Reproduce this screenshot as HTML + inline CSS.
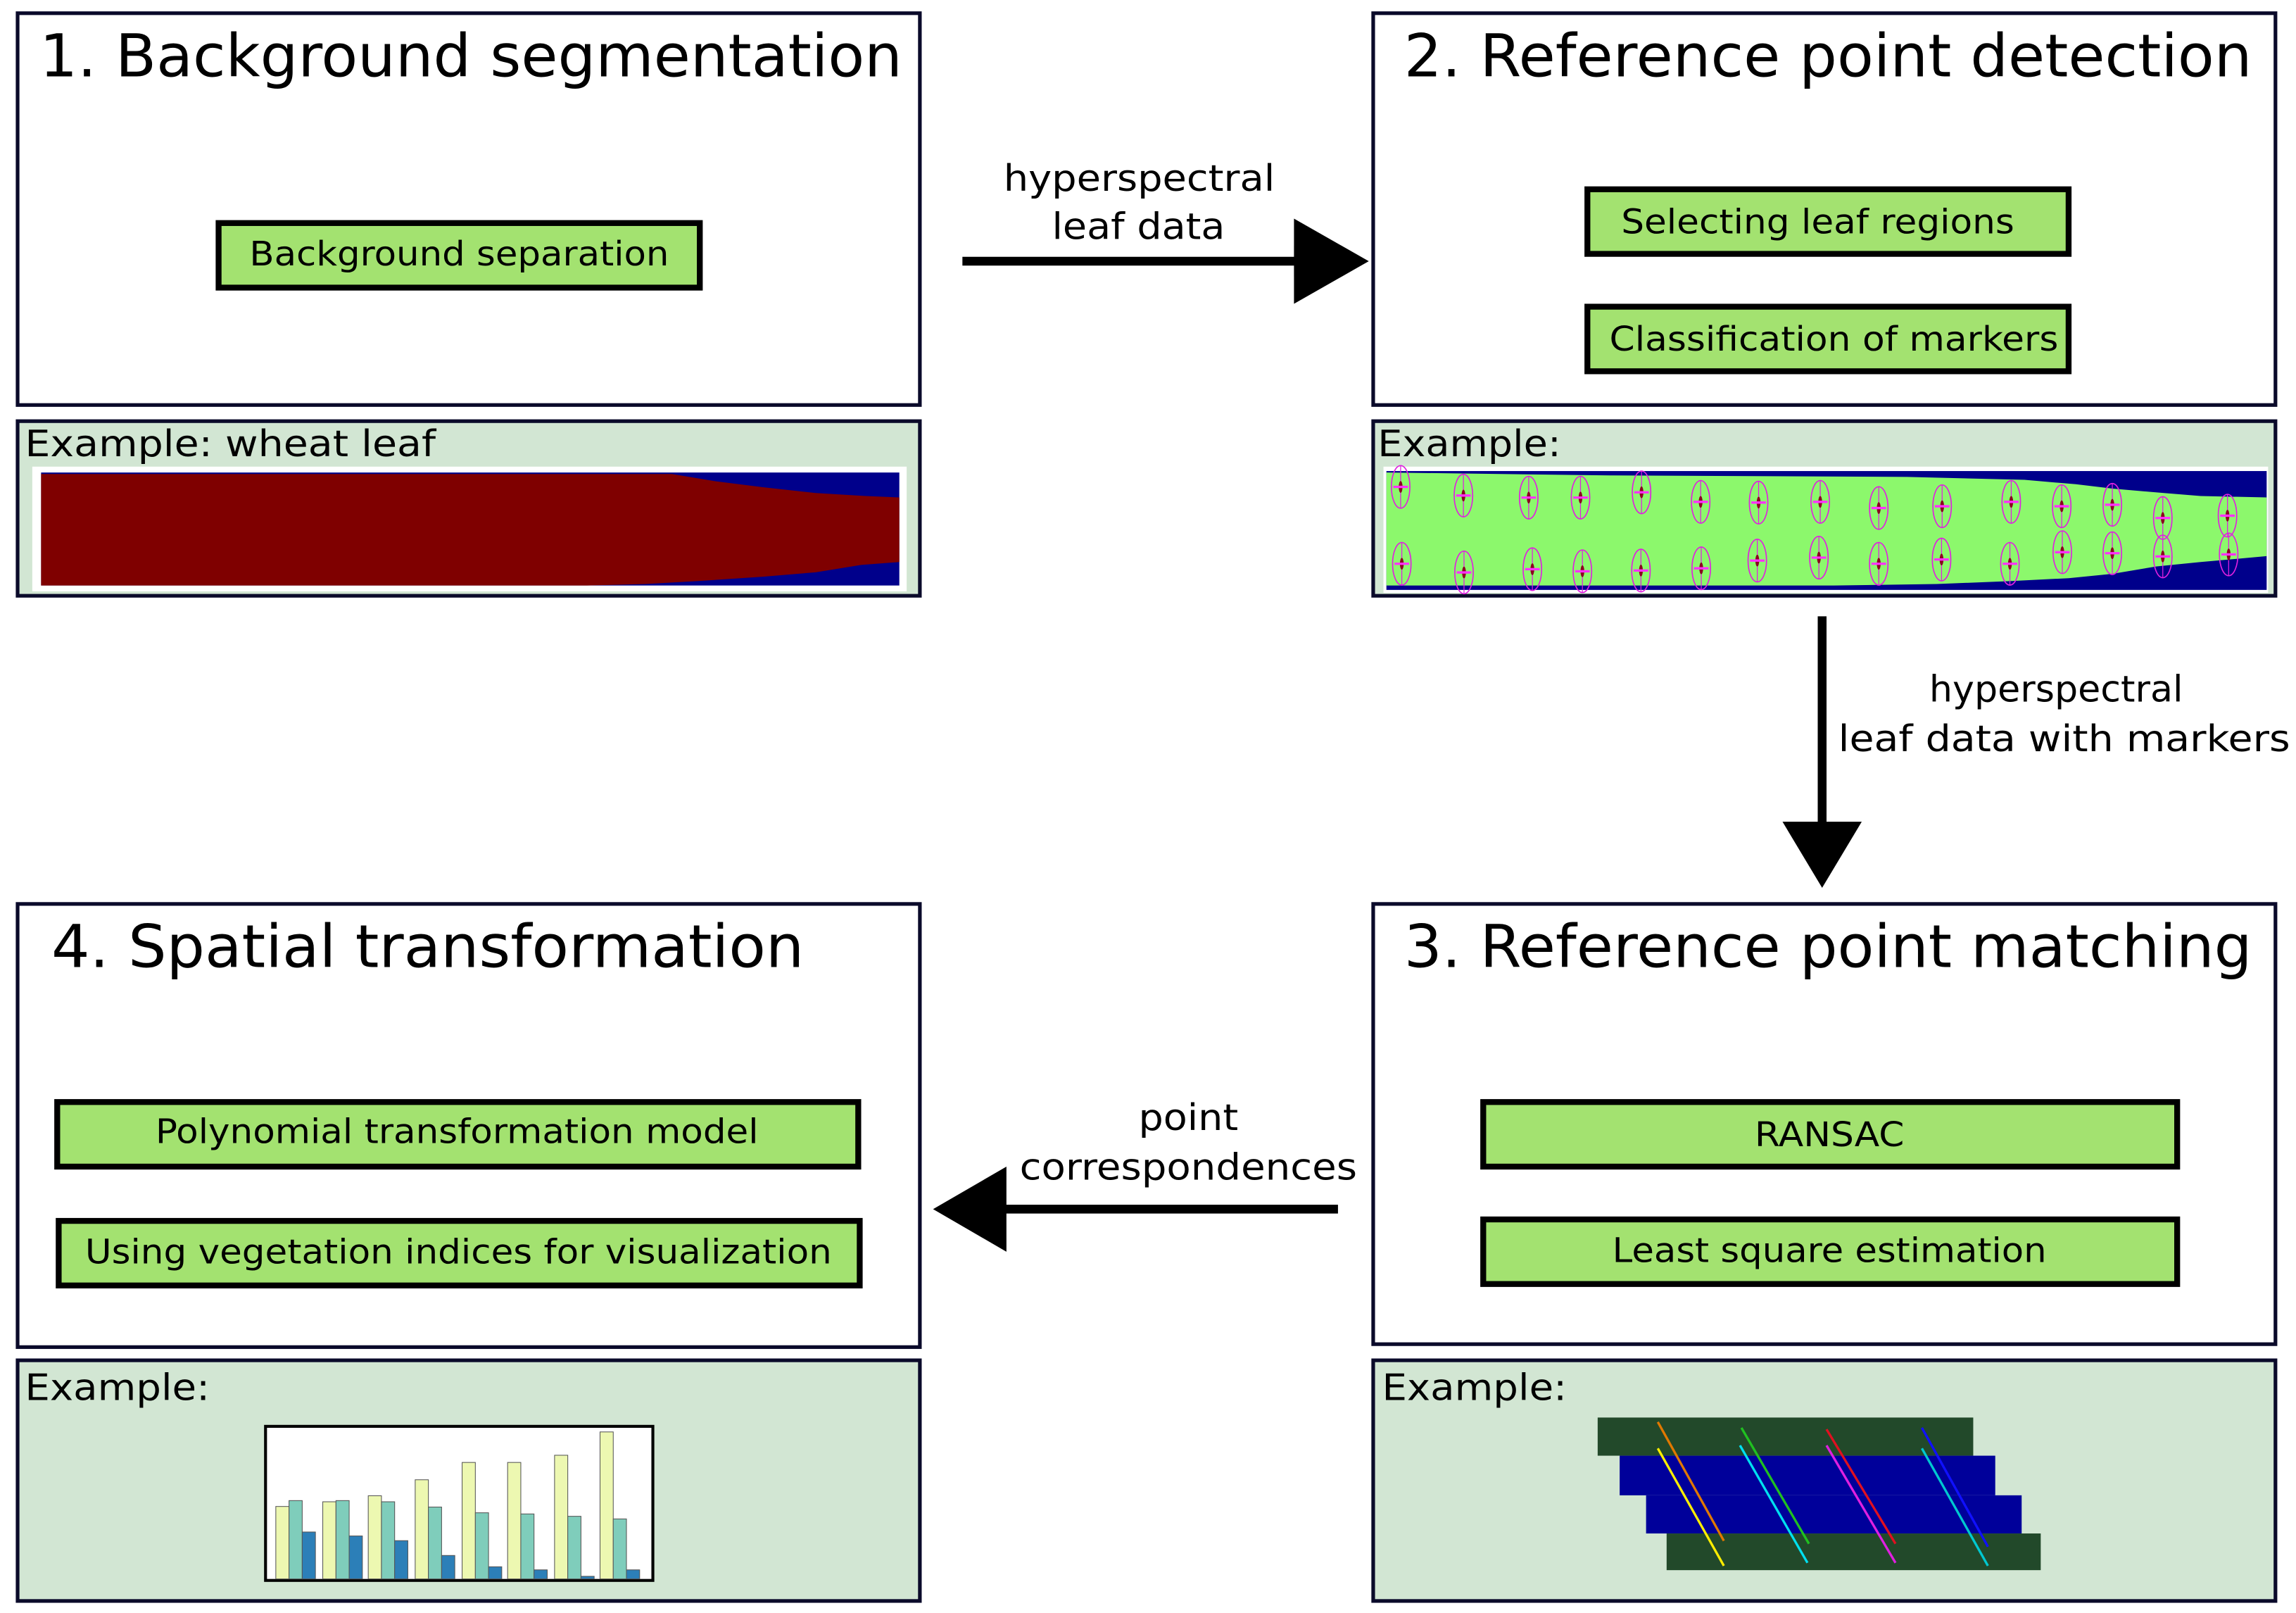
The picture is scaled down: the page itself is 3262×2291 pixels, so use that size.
<!DOCTYPE html>
<html><head><meta charset="utf-8">
<style>
html,body{margin:0;padding:0;background:#fff;}
svg{display:block;}
text{font-family:"DejaVu Sans","Liberation Sans",sans-serif;fill:#000;}
</style></head>
<body>
<svg width="3262" height="2291" viewBox="0 0 1565 1099.2" preserveAspectRatio="none" xmlns="http://www.w3.org/2000/svg">
<defs>
<g id="mk">
<ellipse cx="0" cy="0" rx="6.3" ry="14.5" fill="none" stroke="#e020e0" stroke-width="0.8"/>
<line x1="0" y1="-14.5" x2="0" y2="14.5" stroke="#e020e0" stroke-width="0.6"/>
<ellipse cx="0" cy="0" rx="1.3" ry="4" fill="#8b0020"/>
<line x1="-5" y1="0" x2="5" y2="0" stroke="#ff30ff" stroke-width="1.6"/>
</g>
</defs>

<!-- Panel 1 -->
<rect x="12" y="9" width="615" height="267" fill="#fff" stroke="#0a0a2a" stroke-width="2.5"/>
<text x="27" y="52" font-size="40" textLength="588" lengthAdjust="spacingAndGlyphs">1. Background segmentation</text>
<rect x="149" y="152" width="328" height="44" fill="#a3e270" stroke="#000" stroke-width="4"/>
<text x="170" y="181" font-size="23" textLength="286" lengthAdjust="spacingAndGlyphs">Background separation</text>

<rect x="12" y="287" width="615" height="119" fill="#d2e6d3" stroke="#0a0a2a" stroke-width="2.5"/>
<text x="17" y="311" font-size="25" textLength="280" lengthAdjust="spacingAndGlyphs">Example: wheat leaf</text>
<rect x="22" y="318" width="596" height="85" fill="#fff"/>
<rect x="28" y="322" width="585" height="77" fill="#00008b"/>
<path d="M28,323 L458,323 L488,328 L520,332 L556,336 L590,338 L613,339 L613,383 L587,385 L556,390 L520,393 L475,396 L440,398 L400,399 L28,399 Z" fill="#7f0000"/>

<!-- Arrow 1 -->
<line x1="656" y1="178" x2="886" y2="178" stroke="#000" stroke-width="6"/>
<polygon points="882,149 933,178 882,207" fill="#000"/>
<text x="684" y="130" font-size="25" textLength="185" lengthAdjust="spacingAndGlyphs">hyperspectral</text>
<text x="717" y="163" font-size="25" textLength="118" lengthAdjust="spacingAndGlyphs">leaf data</text>

<!-- Panel 2 -->
<rect x="936" y="9" width="615" height="267" fill="#fff" stroke="#0a0a2a" stroke-width="2.5"/>
<text x="957" y="52" font-size="40" textLength="578" lengthAdjust="spacingAndGlyphs">2. Reference point detection</text>
<rect x="1082" y="129" width="328" height="44" fill="#a3e270" stroke="#000" stroke-width="4"/>
<text x="1105" y="159" font-size="23" textLength="268" lengthAdjust="spacingAndGlyphs">Selecting leaf regions</text>
<rect x="1082" y="209" width="328" height="44" fill="#a3e270" stroke="#000" stroke-width="4"/>
<text x="1097" y="239" font-size="23" textLength="306" lengthAdjust="spacingAndGlyphs">Classification of markers</text>

<rect x="936" y="287" width="615" height="119" fill="#d2e6d3" stroke="#0a0a2a" stroke-width="2.5"/>
<text x="939" y="311" font-size="25" textLength="125" lengthAdjust="spacingAndGlyphs">Example:</text>
<rect x="943" y="318" width="603" height="86" fill="#fff"/>
<rect x="945" y="321" width="600" height="81" fill="#00008b"/>
<path d="M945,322 L1100,324 L1300,325 L1380,327 L1415,330 L1440,333 L1475,336 L1500,338 L1545,339 L1545,379 L1500,383 L1470,386 L1440,391 L1410,394 L1370,396 L1320,398 L1250,399 L945,399 Z" fill="#8cf86c"/>
<use href="#mk" x="954.7" y="331.8"/><use href="#mk" x="997.5" y="337.7"/><use href="#mk" x="1042" y="339.1"/>
<use href="#mk" x="1077.3" y="339.1"/><use href="#mk" x="1118.9" y="335.5"/><use href="#mk" x="1159.2" y="342"/>
<use href="#mk" x="1198.7" y="342.5"/><use href="#mk" x="1240.7" y="342"/><use href="#mk" x="1280.6" y="346.2"/>
<use href="#mk" x="1323.8" y="345"/><use href="#mk" x="1370.9" y="342"/><use href="#mk" x="1405.3" y="345"/>
<use href="#mk" x="1439.8" y="344"/><use href="#mk" x="1474.2" y="353"/><use href="#mk" x="1518.3" y="351.4"/>
<use href="#mk" x="955.5" y="384.2"/><use href="#mk" x="997.9" y="390.1"/><use href="#mk" x="1044.5" y="387.9"/>
<use href="#mk" x="1078.6" y="389.3"/><use href="#mk" x="1118.5" y="388.8"/><use href="#mk" x="1159.6" y="387.3"/>
<use href="#mk" x="1197.8" y="382"/><use href="#mk" x="1239.8" y="380"/><use href="#mk" x="1280.6" y="384.2"/>
<use href="#mk" x="1323.4" y="381.3"/><use href="#mk" x="1370" y="384.2"/><use href="#mk" x="1405.7" y="376.3"/>
<use href="#mk" x="1439.8" y="377"/><use href="#mk" x="1474.2" y="379.2"/><use href="#mk" x="1519.1" y="377.8"/>

<!-- Arrow down -->
<line x1="1242" y1="420" x2="1242" y2="565" stroke="#000" stroke-width="6"/>
<polygon points="1215,560 1269,560 1242,605" fill="#000"/>
<text x="1315" y="478" font-size="25" textLength="173" lengthAdjust="spacingAndGlyphs">hyperspectral</text>
<text x="1253" y="512" font-size="25" textLength="308" lengthAdjust="spacingAndGlyphs">leaf data with markers</text>

<!-- Panel 3 -->
<rect x="936" y="616" width="615" height="300" fill="#fff" stroke="#0a0a2a" stroke-width="2.5"/>
<text x="957" y="659" font-size="40" textLength="578" lengthAdjust="spacingAndGlyphs">3. Reference point matching</text>
<rect x="1011" y="751" width="473" height="44" fill="#a3e270" stroke="#000" stroke-width="4"/>
<text x="1196" y="781" font-size="23" textLength="102" lengthAdjust="spacingAndGlyphs">RANSAC</text>
<rect x="1011" y="831" width="473" height="44" fill="#a3e270" stroke="#000" stroke-width="4"/>
<text x="1099" y="860" font-size="23" textLength="296" lengthAdjust="spacingAndGlyphs">Least square estimation</text>

<rect x="936" y="927" width="615" height="164" fill="#d2e6d3" stroke="#0a0a2a" stroke-width="2.5"/>
<text x="942" y="954" font-size="25" textLength="126" lengthAdjust="spacingAndGlyphs">Example:</text>
<rect x="1089" y="966" width="256" height="26" fill="#22492a"/>
<rect x="1104" y="992" width="256" height="27" fill="#00009a"/>
<rect x="1122" y="1019" width="256" height="26" fill="#00009a"/>
<rect x="1136" y="1045" width="255" height="25" fill="#22492a"/>
<g stroke-width="1.6" fill="none">
<line x1="1130" y1="969" x2="1175" y2="1050" stroke="#e07800"/>
<line x1="1130" y1="987" x2="1175" y2="1067" stroke="#ffee00"/>
<line x1="1187" y1="973" x2="1233" y2="1052" stroke="#20c020"/>
<line x1="1186" y1="985" x2="1232" y2="1065" stroke="#00e0f0"/>
<line x1="1245" y1="974" x2="1292" y2="1052" stroke="#e01020"/>
<line x1="1245" y1="985" x2="1292" y2="1065" stroke="#e020e0"/>
<line x1="1310" y1="973" x2="1355" y2="1054" stroke="#1010ff"/>
<line x1="1310" y1="987" x2="1355" y2="1067" stroke="#00c8d0"/>
</g>

<!-- Arrow left -->
<line x1="912" y1="824" x2="680" y2="824" stroke="#000" stroke-width="6"/>
<polygon points="636,824 686,795 686,853" fill="#000"/>
<text x="776" y="770" font-size="25" textLength="68" lengthAdjust="spacingAndGlyphs">point</text>
<text x="695" y="804" font-size="25" textLength="230" lengthAdjust="spacingAndGlyphs">correspondences</text>

<!-- Panel 4 -->
<rect x="12" y="616" width="615" height="302" fill="#fff" stroke="#0a0a2a" stroke-width="2.5"/>
<text x="35" y="659" font-size="40" textLength="513" lengthAdjust="spacingAndGlyphs">4. Spatial transformation</text>
<rect x="39" y="751" width="546" height="44" fill="#a3e270" stroke="#000" stroke-width="4"/>
<text x="106" y="779" font-size="23" textLength="411" lengthAdjust="spacingAndGlyphs">Polynomial transformation model</text>
<rect x="40" y="832" width="546" height="44" fill="#a3e270" stroke="#000" stroke-width="4"/>
<text x="58" y="861" font-size="23" textLength="509" lengthAdjust="spacingAndGlyphs">Using vegetation indices for visualization</text>

<rect x="12" y="927" width="615" height="164" fill="#d2e6d3" stroke="#0a0a2a" stroke-width="2.5"/>
<text x="17" y="954" font-size="25" textLength="126" lengthAdjust="spacingAndGlyphs">Example:</text>
<rect x="181" y="972" width="264" height="105" fill="#fff" stroke="#000" stroke-width="2"/>
<g stroke="#555" stroke-width="0.5">
<rect x="188" y="1026.6" width="9" height="49.4" fill="#edf8b1"/><rect x="197" y="1022.6" width="9" height="53.4" fill="#7fcdbb"/><rect x="206" y="1044" width="9" height="32" fill="#2c7fb8"/>
<rect x="220" y="1023.4" width="9" height="52.6" fill="#edf8b1"/><rect x="229" y="1022.6" width="9" height="53.4" fill="#7fcdbb"/><rect x="238" y="1046.7" width="9" height="29.3" fill="#2c7fb8"/>
<rect x="251" y="1019.3" width="9" height="56.7" fill="#edf8b1"/><rect x="260" y="1023.4" width="9" height="52.6" fill="#7fcdbb"/><rect x="269" y="1049.9" width="9" height="26.1" fill="#2c7fb8"/>
<rect x="283" y="1008.4" width="9" height="67.6" fill="#edf8b1"/><rect x="292" y="1027" width="9" height="49" fill="#7fcdbb"/><rect x="301" y="1060" width="9" height="16" fill="#2c7fb8"/>
<rect x="315" y="996.6" width="9" height="79.4" fill="#edf8b1"/><rect x="324" y="1030.9" width="9" height="45.1" fill="#7fcdbb"/><rect x="333" y="1067.7" width="9" height="8.3" fill="#2c7fb8"/>
<rect x="346" y="996.6" width="9" height="79.4" fill="#edf8b1"/><rect x="355" y="1031.7" width="9" height="44.3" fill="#7fcdbb"/><rect x="364" y="1069.8" width="9" height="6.2" fill="#2c7fb8"/>
<rect x="378" y="991.7" width="9" height="84.3" fill="#edf8b1"/><rect x="387" y="1033.3" width="9" height="42.7" fill="#7fcdbb"/><rect x="396" y="1074.2" width="9" height="1.8" fill="#2c7fb8"/>
<rect x="409" y="975.8" width="9" height="100.2" fill="#edf8b1"/><rect x="418" y="1035.1" width="9" height="40.9" fill="#7fcdbb"/><rect x="427" y="1069.8" width="9" height="6.2" fill="#2c7fb8"/>
</g>
</svg>
</body></html>
